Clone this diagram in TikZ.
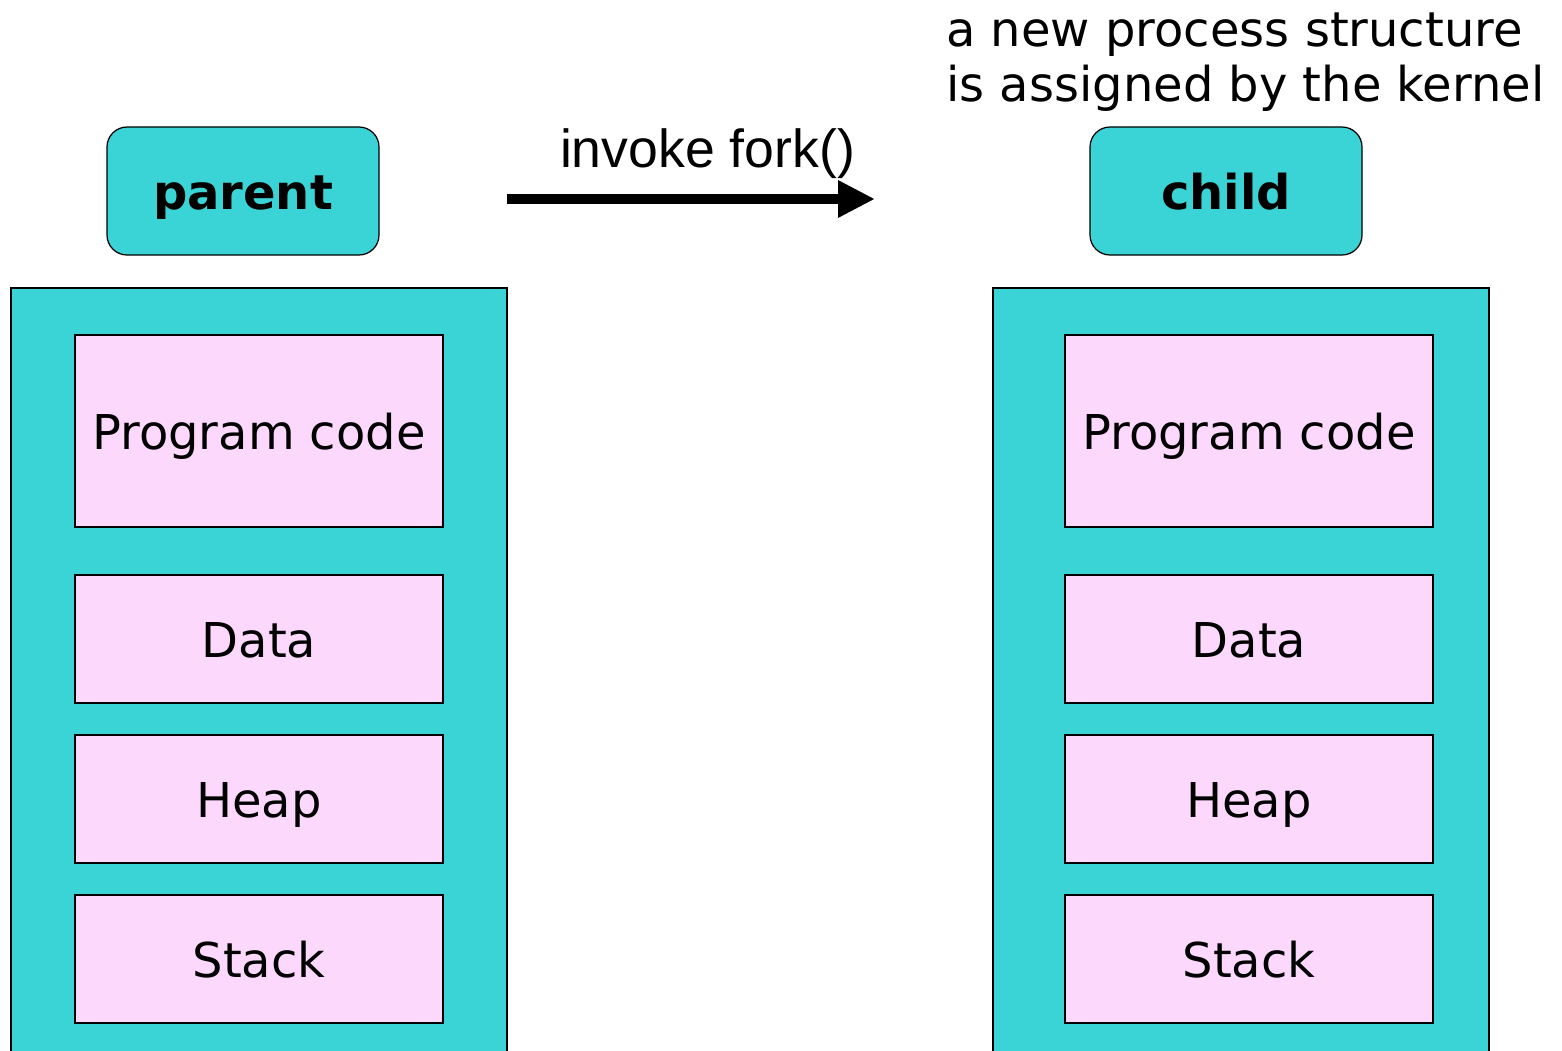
\documentclass[tikz,border=0pt]{standalone}
\usepackage{fontspec}
\setmainfont{DejaVu Sans}
\newfontfamily\arialfont{Liberation Sans}
\usetikzlibrary{arrows.meta}
\usetikzlibrary{positioning}

\definecolor{proccyan}{RGB}{58,212,214}
\definecolor{segpink}{RGB}{252,216,252}

\begin{document}
\begin{tikzpicture}[mem/.style={draw, line width=0.9pt, fill=proccyan, minimum width=9.92cm, minimum height=15.84cm, inner sep=0pt, outer sep=0pt},
        seg/.style={draw, line width=0.9pt, fill=segpink, minimum width=7.36cm, minimum height=2.56cm, inner sep=0pt, outer sep=0pt, text height=21.6pt, text depth=0pt, font=\fontsize{27.3}{31}\selectfont},
        proc/.style={draw, line width=0.7pt, fill=proccyan, rounded corners=0.4cm, minimum width=5.44cm, minimum height=2.56cm, inner sep=0pt, text height=21.6pt, text depth=0pt, font=\fontsize{27.3}{31}\selectfont\bfseries},
        note/.style={font=\fontsize{27.3}{31.4}\selectfont, align=left, inner sep=0pt}]
        \useasboundingbox (0,0) rectangle (31.24,-21.02);
        \clip (0,0) rectangle (31.24,-21.02);

        \node[proc] (parent) at (4.86,-3.82) {parent};
        \node[proc] (child) at (24.52,-3.82) {child};

        \node[mem] (mem-p) at (5.18,-13.68) {};
        \node[seg, minimum height=3.84cm, below=0.94cm of mem-p.north] (code-p) {Program code};
        \node[seg, below=0.96cm of code-p] (data-p) {Data};
        \node[seg, below=0.64cm of data-p] (heap-p) {Heap};
        \node[seg, below=0.64cm of heap-p] (stack-p) {Stack};

        \node[mem, right=9.72cm of mem-p] (mem-c) {};
        \node[seg, minimum height=3.84cm, below=0.94cm of mem-c.north, xshift=0.16cm] (code-c) {Program code};
        \node[seg, below=0.96cm of code-c] (data-c) {Data};
        \node[seg, below=0.64cm of data-c] (heap-c) {Heap};
        \node[seg, below=0.64cm of heap-c] (stack-c) {Stack};

        \coordinate (fork-start) at (10.14,-3.98);
        \coordinate (fork-end) at (17.5,-3.98);
        \draw[line width=0.2cm, -{Triangle[length=0.74cm, width=0.7cm]}] (fork-start) -- (fork-end);
        \node[inner sep=0pt, anchor=base, font=\arialfont\fontsize{30.5}{34}\selectfont] (fork-label) at (14.15,-3.36) {invoke fork()};

        \node[note, anchor=north west] (kernel-note) at (18.92,-0.24) {a new process structure\\is assigned by the kernel};
    \end{tikzpicture}
\end{document}
